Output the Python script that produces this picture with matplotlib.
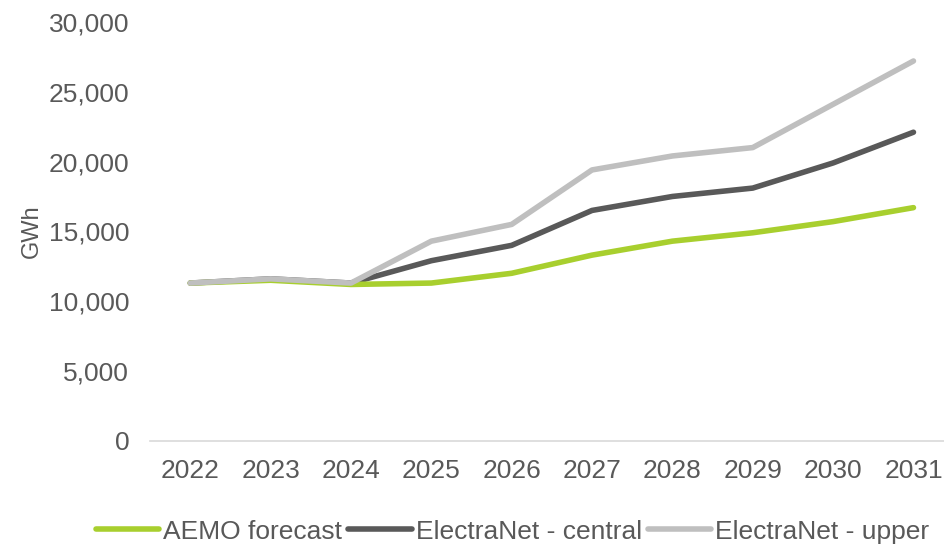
import matplotlib.pyplot as plt
from matplotlib.ticker import FuncFormatter

plt.rcParams['font.family'] = ['Liberation Sans', 'DejaVu Sans']

years = ['2022', '2023', '2024', '2025', '2026', '2027', '2028', '2029', '2030', '2031']
aemo = [11300, 11500, 11200, 11300, 12000, 13300, 14300, 14900, 15700, 16700]
central = [11300, 11600, 11300, 12900, 14000, 16500, 17500, 18100, 19900, 22100]
upper = [11300, 11600, 11300, 14300, 15500, 19400, 20400, 21000, 24100, 27200]

txt = '#595959'

fig = plt.figure(figsize=(9.44, 5.47), dpi=100)
ax = fig.add_axes([0.159, 0.194, 0.841, 0.766])

x = range(len(years))
ax.plot(x, aemo, color='#A8CF2E', lw=4, label='AEMO forecast', solid_capstyle='round', zorder=3)
ax.plot(x, central, color='#595959', lw=4, label='ElectraNet - central', solid_capstyle='round', zorder=2)
ax.plot(x, upper, color='#BFBFBF', lw=4, label='ElectraNet - upper', solid_capstyle='round', zorder=4)

ax.set_ylim(0, 30000)
ax.set_yticks(range(0, 30001, 5000))
ax.yaxis.set_major_formatter(FuncFormatter(lambda v, p: f'{int(v):,}'))
ax.set_xlim(-0.5, 9.38)
ax.set_xticks(list(x))
ax.set_xticklabels(years)

for s in ['top', 'right', 'left']:
    ax.spines[s].set_visible(False)
ax.spines['bottom'].set_color('#D9D9D9')
ax.spines['bottom'].set_linewidth(1.2)
ax.tick_params(axis='y', length=0, pad=15, labelsize=19, labelcolor=txt)
ax.tick_params(axis='x', length=0, pad=13, labelsize=19, labelcolor=txt)
ax.set_ylabel('GWh', fontsize=17, color=txt, labelpad=4)

leg = fig.legend(loc='center', bbox_to_anchor=(0.543, 0.028), ncol=3, frameon=False,
                 fontsize=19, handlelength=2.4, handletextpad=0.15, columnspacing=0.23,
                 borderpad=0, borderaxespad=0)
for t in leg.get_texts():
    t.set_color(txt)

fig.savefig('out.png', dpi=100)
